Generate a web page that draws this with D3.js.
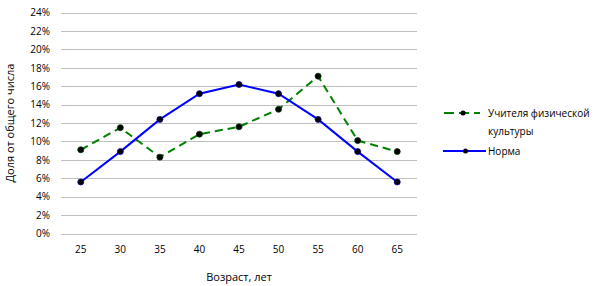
<!DOCTYPE html>
<html>
<head>
<meta charset="utf-8">
<script src="https://cdn.jsdelivr.net/npm/d3@7"></script>
<style>
  body { margin: 0; background: #fff; }
  text { font-family: "Open Sans", "DejaVu Sans", sans-serif; fill: #000; }
</style>
</head>
<body>
<div id="chart"></div>
<script>
var ages = ["25", "30", "35", "40", "45", "50", "55", "60", "65"];
var teachers = [9.1, 11.5, 8.3, 10.8, 11.6, 13.5, 17.1, 10.1, 8.9];
var norm = [5.6, 8.9, 12.4, 15.2, 16.2, 15.2, 12.4, 8.9, 5.6];
var yTicks = [0, 2, 4, 6, 8, 10, 12, 14, 16, 18, 20, 22, 24];
var seriesNames = ["Учителя физической культуры", "Норма"];

var w = 607, h = 286;
var plotLeft = 61, plotRight = 417, plotTop = 12.7, plotBottom = 233.5;

var svg = d3.select("#chart").append("svg")
  .attr("width", w)
  .attr("height", h);

var x = d3.scaleBand().domain(ages).range([plotLeft, plotRight]);
var y = d3.scaleLinear().domain([0, 24]).range([plotBottom, plotTop]);

// grid
svg.append("g")
  .selectAll("line")
  .data(yTicks)
  .enter()
  .append("line")
  .attr("x1", plotLeft)
  .attr("x2", plotRight)
  .attr("y1", function (d) { return Math.round(y(d)) + 0.5; })
  .attr("y2", function (d) { return Math.round(y(d)) + 0.5; })
  .attr("stroke", "#bfbfbf")
  .attr("stroke-width", 1);

// y axis labels
var yAxis = d3.axisLeft(y).tickValues(yTicks).tickSize(0).tickPadding(11)
  .tickFormat(function (d) { return d + "%"; });
var gy = svg.append("g").attr("transform", "translate(" + plotLeft + ",0)").call(yAxis);
gy.select(".domain").remove();
gy.selectAll("text").style("font-size", "10px").attr("fill", "#000")
  .style("font-family", "'Open Sans', sans-serif");

// x axis labels
var xAxis = d3.axisBottom(x).tickSize(0).tickPadding(12);
var gx = svg.append("g").attr("transform", "translate(0," + plotBottom + ")").call(xAxis);
gx.select(".domain").remove();
gx.selectAll("text").style("font-size", "10px").attr("fill", "#000")
  .style("font-family", "'Open Sans', sans-serif");

// axis titles
svg.append("text")
  .attr("x", (plotLeft + plotRight) / 2)
  .attr("y", 281)
  .attr("text-anchor", "middle")
  .style("font-size", "11px")
  .text("Возраст, лет");

svg.append("text")
  .attr("transform", "translate(14," + (plotTop + plotBottom) / 2 + ") rotate(-90)")
  .attr("text-anchor", "middle")
  .style("font-size", "11px")
  .text("Доля от общего числа");

var line = d3.line()
  .x(function (d, i) { return x(ages[i]) + x.bandwidth() / 2; })
  .y(function (d) { return y(d); });

var series = [
  { name: seriesNames[0], values: teachers, color: "#008000", dash: "8,5" },
  { name: seriesNames[1], values: norm, color: "#0000ff", dash: null }
];

series.forEach(function (s) {
  svg.append("path")
    .datum(s.values)
    .attr("d", line)
    .attr("fill", "none")
    .attr("stroke", s.color)
    .attr("stroke-width", 2)
    .attr("stroke-dasharray", s.dash);
  svg.append("g")
    .selectAll("circle")
    .data(s.values)
    .enter()
    .append("circle")
    .attr("cx", function (d, i) { return x(ages[i]) + x.bandwidth() / 2; })
    .attr("cy", function (d) { return y(d); })
    .attr("r", 3)
    .attr("fill", "#000")
    .attr("stroke", s.color === "#0000ff" ? "#00008b" : "#003300")
    .attr("stroke-width", 0.8);
});

// legend
var legend = svg.append("g");
var legendRows = [
  { s: series[0], y: 113, x1: 444, x2: 480, lines: ["Учителя физической", "культуры"] },
  { s: series[1], y: 151, x1: 443, x2: 486, lines: ["Норма"] }
];
legendRows.forEach(function (r) {
  legend.append("line")
    .attr("x1", r.x1).attr("x2", r.x2)
    .attr("y1", r.y).attr("y2", r.y)
    .attr("stroke", r.s.color)
    .attr("stroke-width", 2)
    .attr("stroke-dasharray", r.s.dash ? "10,5" : null);
  legend.append("circle")
    .attr("cx", (r.x1 + r.x2) / 2 + 1)
    .attr("cy", r.y)
    .attr("r", 2.5)
    .attr("fill", "#000");
  r.lines.forEach(function (t, k) {
    legend.append("text")
      .attr("x", 488)
      .attr("y", r.y + 4 + k * 18)
      .style("font-size", "10px")
      .text(t);
  });
});
</script>
</body>
</html>
